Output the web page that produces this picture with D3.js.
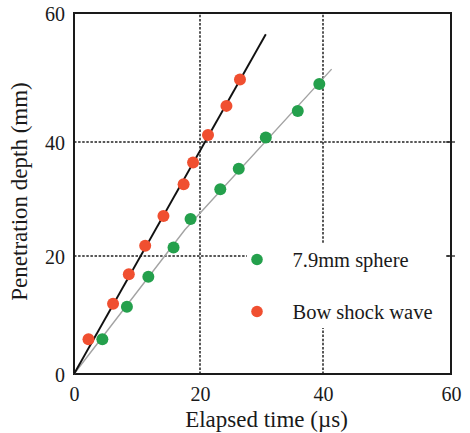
<!DOCTYPE html>
<html>
<head>
<meta charset="utf-8">
<script src="https://cdn.jsdelivr.net/npm/d3@7"></script>
<style>
  html, body { margin: 0; padding: 0; background: #fff; }
  svg { display: block; }
</style>
</head>
<body>
<svg id="chart" width="470" height="433"></svg>
<script>
// Penetration depth vs. elapsed time: sphere and its bow shock wave
const xTicks = [0, 20, 40, 60];
const yTicks = [0, 20, 40, 60];

// 7.9 mm sphere
const sphereTime  = [4.5, 8.4, 11.8, 15.8, 18.5, 23.3, 26.3, 30.7, 35.9, 39.4];
const sphereDepth = [5.9, 11.4, 16.5, 21.5, 26.5, 31.7, 35.3, 40.7, 44.8, 49.0];

// Bow shock wave
const shockTime  = [2.3, 6.2, 8.7, 11.3, 14.2, 17.4, 18.9, 21.3, 24.3, 26.5];
const shockDepth = [5.9, 11.9, 16.9, 21.8, 27.0, 32.6, 36.4, 41.1, 45.6, 49.7];

// Fitted trend lines (vertices)
const shockFitTime  = [0, 30.7];
const shockFitDepth = [0, 56.7];
const sphereFitTime  = [0, 17.6, 41.35];
const sphereFitDepth = [0, 24.6, 51.3];

const legendLabels = ["7.9mm sphere", "Bow shock wave"];
const sphereColor = "#24a04c";
const shockColor = "#f04f30";
const serif = "'Liberation Serif', 'DejaVu Serif', serif";
const ink = "#1a1a1a";

const svg = d3.select("#chart");

const x = d3.scaleLinear().domain([0, 20, 40, 60]).range([74, 200, 323, 451]);
const y = d3.scaleLinear().domain([0, 20, 40, 60]).range([374, 256, 142, 13]);

// dashed grid at inner ticks
const grid = svg.append("g")
  .attr("stroke", "#222").attr("stroke-width", 1.5).attr("stroke-dasharray", "2.5,1.6");
grid.selectAll("line.gx").data(xTicks.slice(1, -1)).join("line")
  .attr("x1", d => x(d)).attr("x2", d => x(d))
  .attr("y1", y(0)).attr("y2", y(60));
grid.selectAll("line.gy").data(yTicks.slice(1, -1)).join("line")
  .attr("y1", d => y(d)).attr("y2", d => y(d))
  .attr("x1", x(0)).attr("x2", x(60));

// legend backdrop hides the grid behind it
svg.append("rect")
  .attr("x", 247).attr("y", 243).attr("width", 199).attr("height", 85)
  .attr("fill", "#fff");

// small ticks across the right border
svg.append("g").selectAll("line").data(yTicks.slice(1, -1)).join("line")
  .attr("x1", x(60) - 5).attr("x2", x(60) + 4)
  .attr("y1", d => y(d)).attr("y2", d => y(d))
  .attr("stroke", "#222").attr("stroke-width", 1.3);

// frame
svg.append("rect")
  .attr("x", x(0)).attr("y", y(60))
  .attr("width", x(60) - x(0)).attr("height", y(0) - y(60))
  .attr("fill", "none").attr("stroke", ink).attr("stroke-width", 2);

// axes (labels only)
const xAxis = svg.append("g").attr("transform", `translate(0,${y(0)})`)
  .call(d3.axisBottom(x).tickValues(xTicks).tickSize(0).tickFormat(d3.format("d")))
  .attr("font-family", serif).attr("font-size", 20);
xAxis.select(".domain").remove();
xAxis.selectAll("text").attr("y", 27).attr("dy", null).attr("fill", ink);

const yAxis = svg.append("g").attr("transform", `translate(${x(0)},0)`)
  .call(d3.axisLeft(y).tickValues(yTicks).tickSize(0).tickFormat(d3.format("d")))
  .attr("font-family", serif).attr("font-size", 20);
yAxis.select(".domain").remove();
yAxis.selectAll("text").attr("x", -9).attr("dy", "0.36em").attr("fill", ink);

// axis titles
svg.append("text")
  .attr("x", 266.5).attr("y", 427)
  .attr("text-anchor", "middle").attr("font-size", 23)
  .attr("font-family", serif).attr("fill", ink)
  .text("Elapsed time (\u00b5s)");
svg.append("text")
  .attr("transform", "translate(27,191.5) rotate(-90)")
  .attr("text-anchor", "middle").attr("font-size", 23)
  .attr("font-family", serif).attr("fill", ink)
  .text("Penetration depth (mm)");

// trend lines
const line = d3.line().x(d => x(d[0])).y(d => y(d[1]));
svg.append("path")
  .datum(sphereFitTime.map((t, i) => [t, sphereFitDepth[i]]))
  .attr("d", line).attr("fill", "none").attr("stroke", "#a3a3a3").attr("stroke-width", 1.4);
svg.append("path")
  .datum(shockFitTime.map((t, i) => [t, shockFitDepth[i]]))
  .attr("d", line).attr("fill", "none").attr("stroke", "#111").attr("stroke-width", 1.9);

// data points
svg.append("g").selectAll("circle")
  .data(sphereTime.map((t, i) => [t, sphereDepth[i]])).join("circle")
  .attr("cx", d => x(d[0])).attr("cy", d => y(d[1])).attr("r", 6)
  .attr("fill", sphereColor);
svg.append("g").selectAll("circle")
  .data(shockTime.map((t, i) => [t, shockDepth[i]])).join("circle")
  .attr("cx", d => x(d[0])).attr("cy", d => y(d[1])).attr("r", 6)
  .attr("fill", shockColor);

// legend
const legend = svg.append("g");
const legendRows = [
  { label: legendLabels[0], color: sphereColor, cy: 259.5 },
  { label: legendLabels[1], color: shockColor, cy: 311.5 }
];
legend.selectAll("circle").data(legendRows).join("circle")
  .attr("cx", 257).attr("cy", d => d.cy).attr("r", 5.8).attr("fill", d => d.color);
legend.selectAll("text").data(legendRows).join("text")
  .attr("x", 292.5).attr("y", d => d.cy + 7.5)
  .attr("font-size", 20.5).attr("font-family", serif).attr("fill", ink)
  .text(d => d.label);
</script>
</body>
</html>
